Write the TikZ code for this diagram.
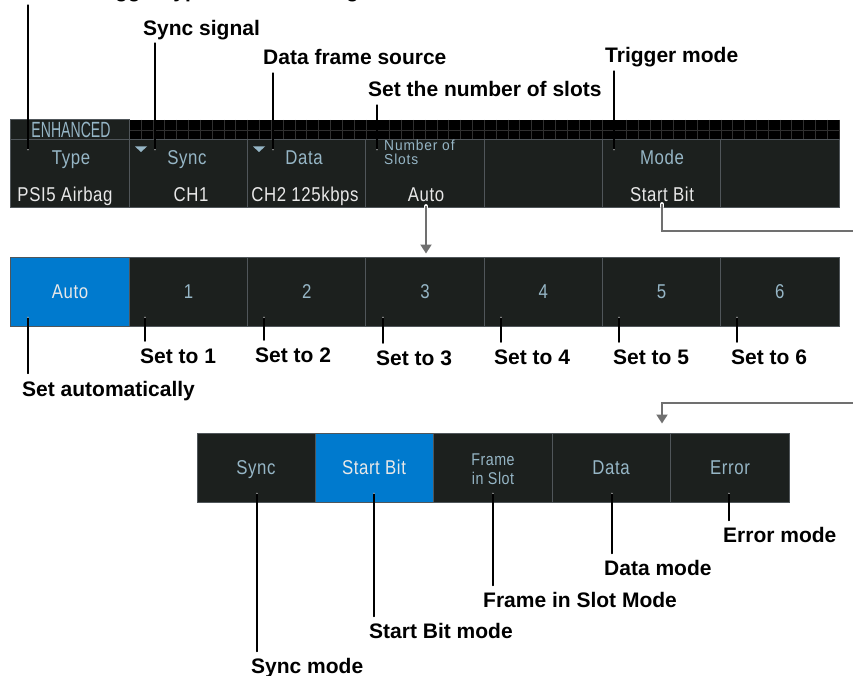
\documentclass[tikz,border=0pt]{standalone}
\usepackage{fontspec}
\setmainfont{Liberation Sans}
\newfontfamily\uifam[FakeStretch=0.84,LetterSpace=3]{Liberation Sans}
\newfontfamily\uismall[FakeStretch=0.95,LetterSpace=6]{Liberation Sans}
\newfontfamily\tabfam[FakeStretch=0.64]{Liberation Sans}
\usetikzlibrary{arrows.meta}
\definecolor{cellbg}{RGB}{28,32,30}
\definecolor{cellborder}{RGB}{80,86,90}
\definecolor{bluecell}{RGB}{0,122,206}
\definecolor{uiblue}{RGB}{150,182,198}
\definecolor{uiwhite}{RGB}{232,232,232}
\definecolor{conngray}{RGB}{112,112,112}
\definecolor{gridc}{RGB}{48,48,48}
\tikzset{
  cell/.style={draw=cellborder, fill=cellbg, line width=1pt, minimum width=118.29pt, minimum height=68pt, inner sep=0pt},
  bcell/.style={cell, fill=bluecell},
  lbl/.style={font=\fontsize{21}{24}\selectfont\bfseries, anchor=base west, inner sep=0pt, text=black},
  ctxt/.style={font=\uifam\fontsize{20}{22}\selectfont, text=uiblue, inner sep=0pt, anchor=base},
  cval/.style={font=\uifam\fontsize{20}{22}\selectfont, text=uiwhite, inner sep=0pt, anchor=base},
  small/.style={font=\uismall\fontsize{14.5}{16}\selectfont},
  leader/.style={draw=white, double=black, line width=0.8pt, double distance=1.1pt, line cap=round},
  conn/.style={draw=conngray, line width=2pt},
  halo/.style={draw=white, line width=4.6pt, line cap=round},
  tip/.style={-{Triangle[width=11pt,length=9pt]}}
}
\begin{document}
\begin{tikzpicture}[x=1pt,y=-1pt]
\useasboundingbox[fill=white] (0,0) rectangle (853,676);

% ---------- top panel ----------
\fill[black] (129.29,120) rectangle (839,140);
\foreach \i in {0,...,60} {
  \draw[gridc, line width=0.6pt] ({129.29+11.83*\i},120) -- ({129.29+11.83*\i},140);
}
\draw[gridc, line width=0.6pt] (129.29,130) -- (839,130);
\node[cell, minimum height=20pt] (tab) at (70.14,130) {};
\node[font=\tabfam\fontsize{22}{23}\selectfont, text=uiblue, inner sep=0pt, anchor=base] (tabt) at (71,137.5) {ENHANCED};

\node[cell] (r1c1) at (70.14,174) {};
\node[cell] (r1c2) at (188.43,174) {};
\node[cell] (r1c3) at (306.71,174) {};
\node[cell] (r1c4) at (425.00,174) {};
\node[cell] (r1c5) at (543.29,174) {};
\node[cell] (r1c6) at (661.57,174) {};
\node[cell] (r1c7) at (779.86,174) {};

\node[ctxt] (tType) at (71,164.5) {Type};
\node[cval] (vType) at (65,201.5) {PSI5 Airbag};
\node[ctxt] (tSync) at (187,164.5) {Sync};
\node[cval] (vSync) at (191,201.5) {CH1};
\node[ctxt] (tData) at (304,164.5) {Data};
\node[cval] (vData) at (305,201.5) {CH2 125kbps};
\node[ctxt, small, anchor=base west] (tSlots1) at (384,151) {Number of};
\node[ctxt, small, anchor=base west] (tSlots2) at (384,165) {Slots};
\node[cval] (vSlots) at (426,201.5) {Auto};
\node[ctxt] (tMode) at (662,164.5) {Mode};
\node[cval] (vMode) at (662,201.5) {Start Bit};

\fill[uiblue] (135,146.5) -- (147,146.5) -- (141,152) -- cycle;
\fill[uiblue] (253,146.5) -- (265,146.5) -- (259,152) -- cycle;

% labels of top panel
\node[lbl] (lType) at (18,-2.5) {Set the trigger type to PSI5 Airbag};
\node[lbl] (lSync) at (143,36) {Sync signal};
\node[lbl] (lData) at (263,65) {Data frame source};
\node[lbl] (lSlots) at (368,97) {Set the number of slots};
\node[lbl] (lMode) at (605,63) {Trigger mode};

\coordinate (kType) at (28,149);
\coordinate (kSync) at (155,149);
\coordinate (kData) at (273,149);
\coordinate (kSlots) at (377,149);
\coordinate (kMode) at (614,149);
\draw[leader] ([yshift=-7.5pt]lType.base -| kType) -- (kType);
\draw[leader] ([yshift=-7pt]lSync.base -| kSync) -- (kSync);
\draw[leader] ([yshift=-8pt]lData.base -| kData) -- (kData);
\draw[leader] ([yshift=-8pt]lSlots.base -| kSlots) -- (kSlots);
\draw[leader] ([yshift=-8pt]lMode.base -| kMode) -- (kMode);

% ---------- second row ----------
\node[bcell, minimum height=69pt] (r2c1) at (70.14,291.5) {};
\node[cell, minimum height=69pt] (r2c2) at (188.43,291.5) {};
\node[cell, minimum height=69pt] (r2c3) at (306.71,291.5) {};
\node[cell, minimum height=69pt] (r2c4) at (425.00,291.5) {};
\node[cell, minimum height=69pt] (r2c5) at (543.29,291.5) {};
\node[cell, minimum height=69pt] (r2c6) at (661.57,291.5) {};
\node[cell, minimum height=69pt] (r2c7) at (779.86,291.5) {};

\node[cval] (n0) at (70,298.5) {Auto};
\node[ctxt] (n1) at (188.43,298.5) {1};
\node[ctxt] (n2) at (306.71,298.5) {2};
\node[ctxt] (n3) at (425.00,298.5) {3};
\node[ctxt] (n4) at (543.29,298.5) {4};
\node[ctxt] (n5) at (661.57,298.5) {5};
\node[ctxt] (n6) at (779.86,298.5) {6};

\node[lbl] (s0) at (22,396) {Set automatically};
\node[lbl] (s1) at (140,363) {Set to 1};
\node[lbl] (s2) at (255,362) {Set to 2};
\node[lbl] (s3) at (376,365) {Set to 3};
\node[lbl] (s4) at (494,364) {Set to 4};
\node[lbl] (s5) at (613,364) {Set to 5};
\node[lbl] (s6) at (731,364) {Set to 6};

\coordinate (m0) at (28,318);
\coordinate (m1) at (145,318);
\coordinate (m2) at (264,318);
\coordinate (m3) at (383,318);
\coordinate (m4) at (501,318);
\coordinate (m5) at (619,318);
\coordinate (m6) at (737,318);
\foreach \k in {0,...,6} {
  \draw[leader] (m\k) -- ([yshift=7pt]s\k.north -| m\k);
}

% arrow from Auto
\draw[halo] ([yshift=-4.5pt]vSlots.south) -- ++(0,2);
\draw[conn, tip] ([yshift=-4.5pt]vSlots.south) -- ([yshift=3pt]r2c4.north -| vSlots.south);

% connector from Start Bit
\coordinate (eR1) at (853,231);
\coordinate (eR2) at (853,403);
\draw[halo] ([yshift=-2.5pt]vMode.south) -- ++(0,2);
\draw[conn] ([yshift=-2.5pt]vMode.south) |- (eR1);

% ---------- third row ----------
\node[cell, minimum width=118.4pt, minimum height=69pt] (r3c1) at (256.2,467.5) {};
\node[bcell, minimum width=118.4pt, minimum height=69pt] (r3c2) at (374.6,467.5) {};
\node[cell, minimum width=118.4pt, minimum height=69pt] (r3c3) at (493.0,467.5) {};
\node[cell, minimum width=118.4pt, minimum height=69pt] (r3c4) at (611.4,467.5) {};
\node[cell, minimum width=118.4pt, minimum height=69pt] (r3c5) at (729.8,467.5) {};

\draw[conn, tip] (eR2) -| ([yshift=9pt]r3c4.north -| vMode.south);

\node[ctxt] (m3a) at (256,474.5) {Sync};
\node[cval] (m3b) at (374,474.5) {Start Bit};
\node[ctxt, font=\uifam\fontsize{17}{18}\selectfont] (m3c1) at (493,465) {Frame};
\node[ctxt, font=\uifam\fontsize{17}{18}\selectfont] (m3c2) at (493,484) {in Slot};
\node[ctxt] (m3d) at (611,474.5) {Data};
\node[ctxt] (m3e) at (730,474.5) {Error};

\node[lbl] (q1) at (251,673) {Sync mode};
\node[lbl] (q2) at (369,638) {Start Bit mode};
\node[lbl] (q3) at (483,607) {Frame in Slot Mode};
\node[lbl] (q4) at (604,575) {Data mode};
\node[lbl] (q5) at (723,542) {Error mode};

\coordinate (p1) at (257,494);
\coordinate (p2) at (374,494);
\coordinate (p3) at (493,494);
\coordinate (p4) at (612,494);
\coordinate (p5) at (729,494);
\foreach \k in {1,...,5} {
  \draw[leader] (p\k) -- ([yshift=6pt]q\k.north -| p\k);
}
\end{tikzpicture}
\end{document}
